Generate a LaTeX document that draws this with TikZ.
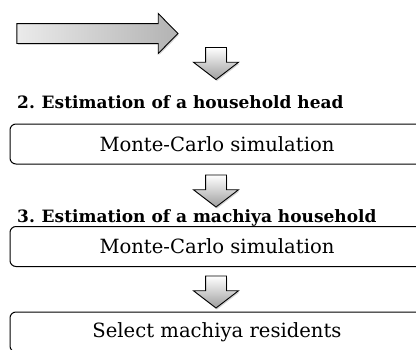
\documentclass[tikz,border=0pt]{standalone}
\usepackage{fontspec}
\setmainfont{DejaVu Serif}
\usetikzlibrary{shapes.arrows,shadows}

\begin{document}
\begin{tikzpicture}[x=1pt,y=-1pt,
  stepbox/.style={draw,line width=1pt,rounded corners=6pt,minimum width=414pt,
    minimum height=40pt,font=\fontsize{19.6}{23}\selectfont},
  steptitle/.style={anchor=base west,inner sep=0pt,font=\fontsize{17}{20}\selectfont\bfseries},
  downarrow/.style={single arrow,draw,line width=0.9pt,shape border rotate=270,
    inner sep=10pt,minimum height=32pt,minimum width=44pt,single arrow head extend=12pt,
    single arrow tip angle=105,top color=white,bottom color=black!38,
    drop shadow={opacity=0.35,shadow xshift=1pt,shadow yshift=-1.5pt}}]
  \useasboundingbox (0,0) rectangle (416,349);
  \clip (0,0) rectangle (416,349);
  % input arrow
  \node[single arrow,draw,line width=0.9pt,inner sep=9.5pt,minimum height=161pt,
    minimum width=39pt,single arrow head extend=10pt,single arrow tip angle=91,
    left color=black!8,right color=black!30,
    drop shadow={opacity=0.35,shadow xshift=1pt,shadow yshift=-1.5pt}]
    (feed) at (92.5,33.5){};
  \node[downarrow] (down1) at (216,59.5){};
  % step 2
  \node[steptitle] (headtitle) at (17,108.5){2.\hspace{0.4em}Estimation of a household head};
  \node[stepbox] (mcone) at (217,144){Monte-Carlo simulation};
  \node[downarrow] (down2) at (216,187){};
  % step 3
  \node[steptitle] (housetitle) at (17,222){3.\hspace{0.4em}Estimation of a machiya household};
  \node[stepbox] (mctwo) at (217,246.5){Monte-Carlo simulation};
  \node[downarrow] (down3) at (216,288){};
  \node[stepbox] (select) at (217,332){Select machiya residents};
\end{tikzpicture}
\end{document}
